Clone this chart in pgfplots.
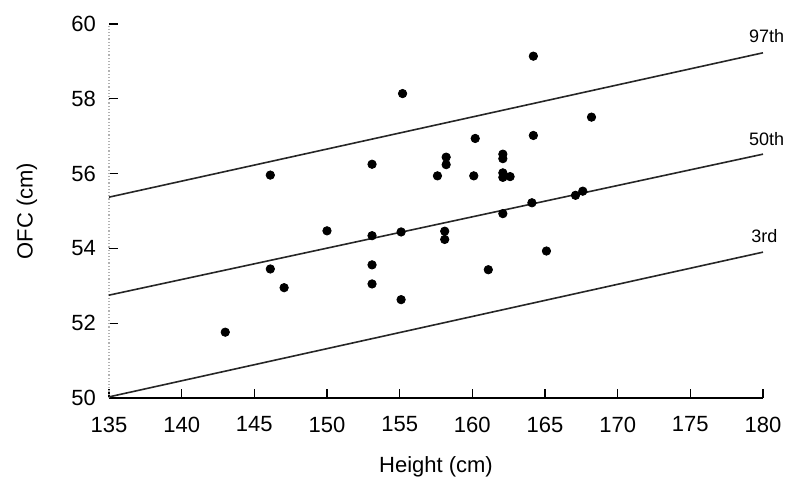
\documentclass[border=0pt]{standalone}
\usepackage{fontspec}
\setmainfont{Liberation Sans}
\usepackage{pgfplots}
\pgfplotsset{compat=1.18}
\begin{document}
\begin{tikzpicture}
\useasboundingbox (-54.5pt,-48.5pt) rectangle (345.5pt,199pt);
\begin{axis}[
  scale only axis, width=327pt, height=187pt,
  xmin=135, xmax=180, ymin=50, ymax=60,
  axis x line=bottom, axis y line=left,
  x axis line style={-, line width=0.9pt},
  y axis line style={-, gray!60, densely dotted, line width=0.6pt},
  xtick={135,140,...,180}, ytick={50,52,...,60},
  tick align=inside, major tick length=4.5pt,
  tick style={black, line width=0.6pt},
  font=\fontsize{11}{13}\selectfont,
  /pgf/number format/assume math mode=true,
  xticklabel style={yshift=-5.8pt},
  yticklabel style={xshift=-3pt},
  xlabel={Height (cm)}, ylabel={OFC (cm)},
  xlabel style={at={(axis description cs:0.5,0)}, anchor=center, yshift=-34.5pt},
  ylabel style={at={(axis description cs:0,0.5)}, anchor=center, yshift=41pt},
  clip=false,
]
\addplot[no marks, line width=0.8pt, black!85] coordinates {(135,55.37) (180,59.23)};
\addplot[no marks, line width=0.8pt, black!85] coordinates {(135,52.75) (180,56.52)};
\addplot[no marks, line width=0.8pt, black!85] coordinates {(135,50.03) (180,53.90)};
\addplot[only marks, mark=*, mark size=2.1pt, black] table {
x y
143.0 51.76
146.1 53.45
147.05 52.95
146.1 55.96
150.0 54.47
153.1 56.25
153.1 54.34
153.1 53.56
153.1 53.05
155.2 58.14
155.1 54.44
155.1 52.63
157.6 55.94
158.2 56.44
158.2 56.24
158.1 54.46
158.1 54.24
160.2 56.94
160.1 55.94
161.1 53.43
162.1 56.52
162.1 56.40
162.1 56.02
162.1 55.90
162.6 55.92
162.1 54.93
164.2 59.14
164.2 57.02
164.1 55.22
165.1 53.93
167.1 55.42
167.6 55.53
168.2 57.51
};
\node[font=\fontsize{9}{10}\selectfont] at (axis cs:180.25,59.69) {97th};
\node[font=\fontsize{9}{10}\selectfont] at (axis cs:180.25,56.93) {50th};
\node[font=\fontsize{9}{10}\selectfont] at (axis cs:180.1,54.33) {3rd};
\end{axis}
\end{tikzpicture}
\end{document}
